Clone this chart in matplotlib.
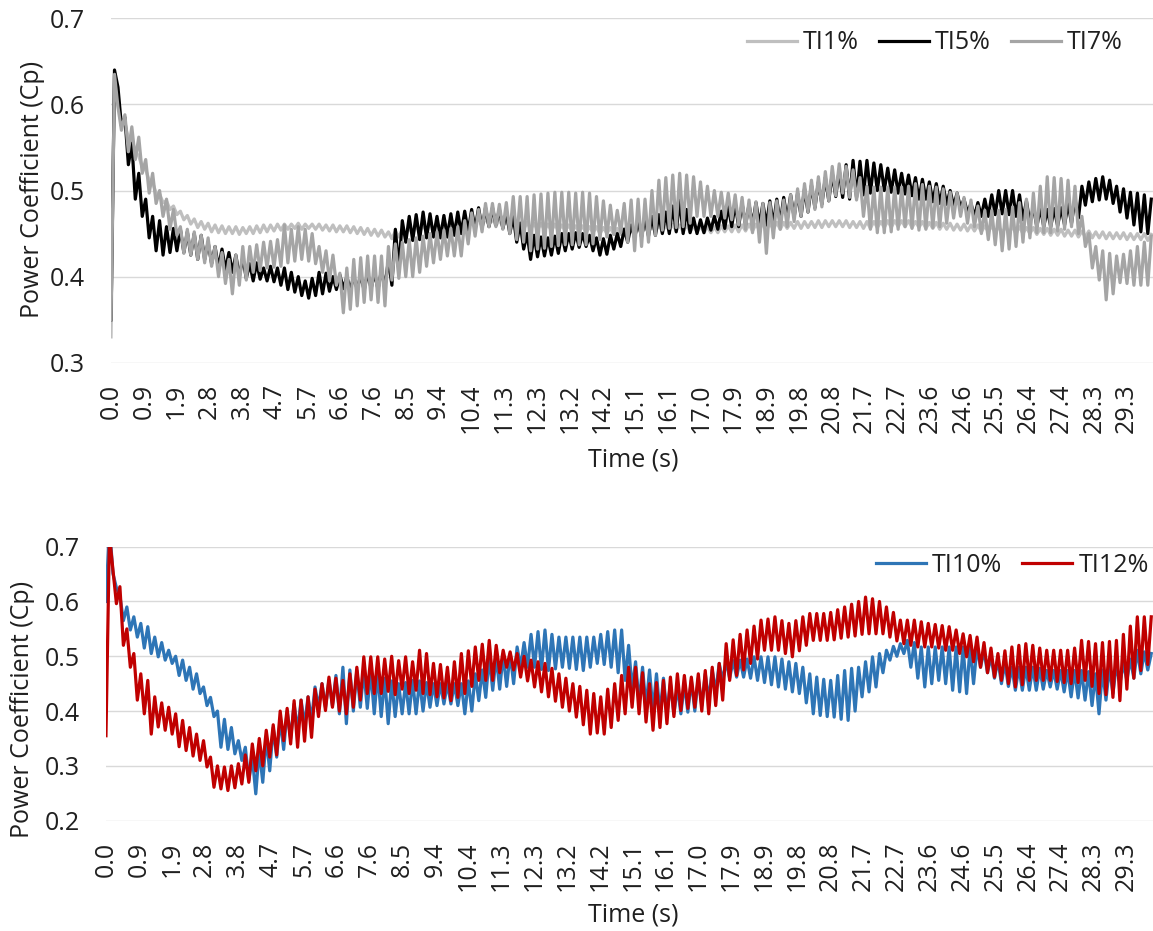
import numpy as np
import matplotlib
matplotlib.use("Agg")
import matplotlib.pyplot as plt

plt.rcParams['font.family'] = ['Open Sans', 'DejaVu Sans']

# Cp samples every 0.1 s, one row per second (t = k.0 ... k.9), last value at 30.0 s
dt = 0.1

ti1 = [
    [0.330, 0.635, 0.600, 0.582, 0.576, 0.562, 0.560, 0.545, 0.540, 0.527],
    [0.524, 0.512, 0.509, 0.497, 0.496, 0.486, 0.488, 0.478, 0.482, 0.472],
    [0.476, 0.466, 0.471, 0.461, 0.467, 0.457, 0.464, 0.455, 0.462, 0.452],
    [0.460, 0.451, 0.459, 0.450, 0.458, 0.450, 0.458, 0.449, 0.457, 0.450],
    [0.458, 0.450, 0.459, 0.451, 0.460, 0.452, 0.460, 0.453, 0.461, 0.454],
    [0.461, 0.455, 0.461, 0.456, 0.462, 0.455, 0.461, 0.456, 0.461, 0.455],
    [0.461, 0.454, 0.460, 0.453, 0.460, 0.452, 0.459, 0.452, 0.459, 0.451],
    [0.458, 0.450, 0.457, 0.449, 0.456, 0.448, 0.455, 0.447, 0.454, 0.446],
    [0.452, 0.444, 0.453, 0.446, 0.455, 0.448, 0.457, 0.450, 0.459, 0.452],
    [0.460, 0.453, 0.462, 0.455, 0.463, 0.456, 0.464, 0.457, 0.465, 0.458],
    [0.466, 0.459, 0.467, 0.460, 0.468, 0.460, 0.468, 0.461, 0.467, 0.460],
    [0.467, 0.459, 0.466, 0.458, 0.465, 0.457, 0.464, 0.456, 0.463, 0.455],
    [0.463, 0.455, 0.462, 0.454, 0.462, 0.454, 0.461, 0.453, 0.461, 0.453],
    [0.460, 0.453, 0.460, 0.452, 0.459, 0.452, 0.459, 0.451, 0.458, 0.451],
    [0.458, 0.450, 0.457, 0.450, 0.457, 0.449, 0.456, 0.449, 0.456, 0.449],
    [0.456, 0.449, 0.457, 0.450, 0.458, 0.451, 0.459, 0.452, 0.460, 0.452],
    [0.460, 0.453, 0.461, 0.453, 0.460, 0.452, 0.460, 0.452, 0.459, 0.452],
    [0.459, 0.451, 0.458, 0.451, 0.458, 0.451, 0.459, 0.452, 0.459, 0.452],
    [0.460, 0.452, 0.460, 0.453, 0.461, 0.453, 0.461, 0.454, 0.462, 0.454],
    [0.462, 0.455, 0.463, 0.455, 0.463, 0.456, 0.463, 0.456, 0.464, 0.456],
    [0.464, 0.457, 0.464, 0.457, 0.465, 0.457, 0.465, 0.458, 0.465, 0.458],
    [0.465, 0.458, 0.465, 0.457, 0.464, 0.457, 0.464, 0.456, 0.464, 0.456],
    [0.464, 0.457, 0.464, 0.457, 0.465, 0.457, 0.465, 0.458, 0.465, 0.458],
    [0.465, 0.457, 0.464, 0.457, 0.464, 0.456, 0.463, 0.456, 0.463, 0.455],
    [0.462, 0.455, 0.462, 0.454, 0.461, 0.454, 0.461, 0.453, 0.460, 0.453],
    [0.460, 0.452, 0.459, 0.452, 0.459, 0.451, 0.458, 0.451, 0.458, 0.451],
    [0.458, 0.450, 0.458, 0.450, 0.457, 0.450, 0.457, 0.449, 0.456, 0.449],
    [0.456, 0.448, 0.455, 0.448, 0.455, 0.447, 0.454, 0.447, 0.454, 0.446],
    [0.453, 0.446, 0.453, 0.445, 0.452, 0.445, 0.452, 0.444, 0.451, 0.444],
    [0.451, 0.444, 0.451, 0.443, 0.450, 0.443, 0.450, 0.443, 0.450, 0.442],
    [0.449],
]

ti5 = [
    [0.350, 0.640, 0.620, 0.575, 0.585, 0.530, 0.555, 0.490, 0.520, 0.470],
    [0.490, 0.445, 0.470, 0.430, 0.465, 0.425, 0.458, 0.428, 0.456, 0.430],
    [0.455, 0.428, 0.452, 0.425, 0.450, 0.420, 0.448, 0.420, 0.440, 0.415],
    [0.435, 0.410, 0.432, 0.408, 0.428, 0.405, 0.425, 0.400, 0.422, 0.398],
    [0.415, 0.395, 0.416, 0.397, 0.410, 0.395, 0.412, 0.394, 0.410, 0.390],
    [0.410, 0.385, 0.405, 0.382, 0.400, 0.378, 0.395, 0.375, 0.398, 0.378],
    [0.405, 0.380, 0.404, 0.383, 0.400, 0.385, 0.402, 0.386, 0.400, 0.385],
    [0.400, 0.385, 0.402, 0.384, 0.405, 0.386, 0.404, 0.385, 0.408, 0.388],
    [0.420, 0.390, 0.455, 0.410, 0.465, 0.440, 0.470, 0.442, 0.472, 0.443],
    [0.475, 0.445, 0.473, 0.446, 0.470, 0.445, 0.471, 0.446, 0.473, 0.448],
    [0.475, 0.450, 0.476, 0.452, 0.478, 0.455, 0.480, 0.456, 0.480, 0.458],
    [0.480, 0.460, 0.478, 0.456, 0.475, 0.450, 0.470, 0.440, 0.462, 0.432],
    [0.450, 0.420, 0.448, 0.423, 0.446, 0.424, 0.445, 0.425, 0.447, 0.427],
    [0.450, 0.430, 0.450, 0.432, 0.451, 0.434, 0.450, 0.435, 0.448, 0.430],
    [0.445, 0.425, 0.444, 0.426, 0.448, 0.432, 0.450, 0.435, 0.455, 0.440],
    [0.460, 0.445, 0.464, 0.446, 0.468, 0.447, 0.470, 0.448, 0.472, 0.450],
    [0.475, 0.450, 0.482, 0.452, 0.489, 0.450, 0.478, 0.451, 0.468, 0.450],
    [0.466, 0.451, 0.468, 0.454, 0.470, 0.455, 0.476, 0.456, 0.482, 0.458],
    [0.485, 0.458, 0.485, 0.460, 0.484, 0.460, 0.486, 0.460, 0.485, 0.460],
    [0.488, 0.460, 0.490, 0.462, 0.492, 0.466, 0.495, 0.469, 0.497, 0.470],
    [0.502, 0.475, 0.506, 0.480, 0.510, 0.484, 0.515, 0.488, 0.520, 0.493],
    [0.524, 0.492, 0.530, 0.490, 0.535, 0.492, 0.534, 0.495, 0.535, 0.497],
    [0.532, 0.500, 0.530, 0.500, 0.526, 0.498, 0.524, 0.497, 0.520, 0.496],
    [0.518, 0.494, 0.515, 0.490, 0.513, 0.490, 0.510, 0.487, 0.508, 0.485],
    [0.505, 0.484, 0.500, 0.482, 0.497, 0.480, 0.490, 0.474, 0.485, 0.470],
    [0.486, 0.470, 0.490, 0.470, 0.495, 0.472, 0.500, 0.473, 0.500, 0.472],
    [0.500, 0.470, 0.495, 0.466, 0.488, 0.462, 0.481, 0.458, 0.480, 0.458],
    [0.478, 0.458, 0.479, 0.459, 0.480, 0.460, 0.485, 0.462, 0.490, 0.468],
    [0.505, 0.483, 0.510, 0.487, 0.514, 0.489, 0.516, 0.490, 0.512, 0.485],
    [0.505, 0.475, 0.502, 0.468, 0.498, 0.460, 0.497, 0.452, 0.495, 0.450],
    [0.490],
]

ti7 = [
    [0.350, 0.635, 0.597, 0.570, 0.588, 0.545, 0.574, 0.536, 0.562, 0.520],
    [0.536, 0.497, 0.520, 0.485, 0.500, 0.470, 0.490, 0.455, 0.478, 0.448],
    [0.458, 0.427, 0.455, 0.425, 0.452, 0.420, 0.448, 0.416, 0.445, 0.412],
    [0.435, 0.400, 0.428, 0.392, 0.420, 0.380, 0.425, 0.390, 0.435, 0.396],
    [0.435, 0.405, 0.437, 0.407, 0.440, 0.410, 0.441, 0.411, 0.443, 0.412],
    [0.460, 0.416, 0.455, 0.418, 0.458, 0.420, 0.455, 0.418, 0.450, 0.415],
    [0.435, 0.405, 0.430, 0.395, 0.425, 0.390, 0.404, 0.358, 0.410, 0.362],
    [0.420, 0.366, 0.422, 0.370, 0.424, 0.373, 0.424, 0.370, 0.424, 0.366],
    [0.435, 0.396, 0.438, 0.398, 0.440, 0.400, 0.443, 0.400, 0.445, 0.405],
    [0.447, 0.412, 0.450, 0.416, 0.452, 0.420, 0.454, 0.424, 0.456, 0.424],
    [0.458, 0.424, 0.465, 0.438, 0.474, 0.447, 0.478, 0.452, 0.485, 0.458],
    [0.485, 0.458, 0.484, 0.455, 0.486, 0.450, 0.493, 0.443, 0.493, 0.440],
    [0.493, 0.430, 0.495, 0.432, 0.496, 0.433, 0.497, 0.435, 0.498, 0.436],
    [0.498, 0.437, 0.498, 0.437, 0.497, 0.437, 0.498, 0.437, 0.497, 0.438],
    [0.493, 0.443, 0.488, 0.446, 0.483, 0.449, 0.477, 0.451, 0.485, 0.440],
    [0.489, 0.430, 0.490, 0.435, 0.490, 0.440, 0.500, 0.448, 0.512, 0.454],
    [0.515, 0.456, 0.518, 0.457, 0.520, 0.458, 0.518, 0.462, 0.516, 0.470],
    [0.510, 0.470, 0.505, 0.470, 0.500, 0.470, 0.498, 0.468, 0.497, 0.466],
    [0.495, 0.460, 0.492, 0.455, 0.489, 0.451, 0.487, 0.440, 0.485, 0.427],
    [0.486, 0.445, 0.488, 0.455, 0.489, 0.458, 0.495, 0.464, 0.502, 0.470],
    [0.508, 0.475, 0.512, 0.478, 0.516, 0.481, 0.522, 0.488, 0.528, 0.494],
    [0.531, 0.497, 0.528, 0.492, 0.524, 0.489, 0.515, 0.470, 0.505, 0.455],
    [0.504, 0.451, 0.504, 0.451, 0.504, 0.452, 0.504, 0.455, 0.504, 0.458],
    [0.505, 0.456, 0.508, 0.454, 0.507, 0.455, 0.505, 0.457, 0.504, 0.458],
    [0.502, 0.462, 0.498, 0.468, 0.497, 0.470, 0.492, 0.462, 0.489, 0.458],
    [0.482, 0.450, 0.477, 0.443, 0.477, 0.437, 0.477, 0.430, 0.478, 0.432],
    [0.481, 0.435, 0.486, 0.440, 0.490, 0.445, 0.497, 0.451, 0.505, 0.451],
    [0.516, 0.451, 0.515, 0.453, 0.514, 0.455, 0.512, 0.458, 0.505, 0.450],
    [0.470, 0.435, 0.450, 0.410, 0.435, 0.396, 0.430, 0.373, 0.427, 0.380],
    [0.424, 0.393, 0.426, 0.392, 0.430, 0.390, 0.435, 0.390, 0.440, 0.390],
    [0.447],
]

ti10 = [
    [0.600, 0.740, 0.651, 0.625, 0.610, 0.565, 0.590, 0.548, 0.572, 0.535],
    [0.560, 0.515, 0.554, 0.505, 0.535, 0.499, 0.525, 0.493, 0.511, 0.487],
    [0.500, 0.465, 0.493, 0.456, 0.480, 0.440, 0.468, 0.432, 0.444, 0.410],
    [0.425, 0.390, 0.400, 0.334, 0.385, 0.330, 0.370, 0.322, 0.346, 0.310],
    [0.334, 0.273, 0.316, 0.249, 0.330, 0.270, 0.352, 0.291, 0.370, 0.316],
    [0.385, 0.330, 0.400, 0.350, 0.413, 0.365, 0.420, 0.375, 0.426, 0.383],
    [0.444, 0.407, 0.450, 0.407, 0.456, 0.410, 0.465, 0.395, 0.480, 0.377],
    [0.475, 0.400, 0.474, 0.407, 0.474, 0.405, 0.474, 0.395, 0.470, 0.390],
    [0.460, 0.377, 0.455, 0.390, 0.450, 0.395, 0.452, 0.395, 0.456, 0.395],
    [0.455, 0.400, 0.452, 0.407, 0.450, 0.410, 0.450, 0.413, 0.450, 0.413],
    [0.450, 0.410, 0.450, 0.395, 0.455, 0.400, 0.468, 0.419, 0.475, 0.425],
    [0.499, 0.438, 0.500, 0.440, 0.503, 0.445, 0.505, 0.450, 0.517, 0.480],
    [0.525, 0.480, 0.540, 0.480, 0.545, 0.476, 0.548, 0.474, 0.540, 0.477],
    [0.535, 0.480, 0.535, 0.478, 0.535, 0.476, 0.535, 0.474, 0.535, 0.480],
    [0.535, 0.487, 0.540, 0.485, 0.545, 0.480, 0.548, 0.470, 0.548, 0.456],
    [0.520, 0.440, 0.490, 0.415, 0.480, 0.407, 0.475, 0.400, 0.468, 0.395],
    [0.460, 0.395, 0.450, 0.395, 0.444, 0.395, 0.450, 0.398, 0.456, 0.400],
    [0.460, 0.410, 0.468, 0.420, 0.475, 0.435, 0.487, 0.456, 0.490, 0.460],
    [0.492, 0.462, 0.493, 0.462, 0.495, 0.460, 0.499, 0.456, 0.499, 0.452],
    [0.499, 0.448, 0.499, 0.444, 0.495, 0.440, 0.490, 0.435, 0.487, 0.432],
    [0.480, 0.415, 0.468, 0.395, 0.462, 0.392, 0.458, 0.390, 0.456, 0.389],
    [0.465, 0.385, 0.474, 0.383, 0.478, 0.400, 0.480, 0.426, 0.490, 0.435],
    [0.499, 0.444, 0.505, 0.470, 0.511, 0.493, 0.518, 0.500, 0.523, 0.505],
    [0.529, 0.480, 0.525, 0.460, 0.517, 0.444, 0.517, 0.450, 0.517, 0.456],
    [0.517, 0.450, 0.517, 0.438, 0.517, 0.435, 0.517, 0.432, 0.517, 0.450],
    [0.517, 0.480, 0.510, 0.470, 0.500, 0.460, 0.493, 0.450, 0.488, 0.445],
    [0.480, 0.438, 0.480, 0.438, 0.480, 0.438, 0.480, 0.438, 0.478, 0.440],
    [0.474, 0.444, 0.474, 0.440, 0.474, 0.435, 0.474, 0.426, 0.474, 0.424],
    [0.474, 0.420, 0.472, 0.410, 0.468, 0.395, 0.475, 0.420, 0.480, 0.432],
    [0.484, 0.450, 0.487, 0.456, 0.495, 0.460, 0.511, 0.468, 0.508, 0.475],
    [0.505],
]

ti12 = [
    [0.355, 0.720, 0.657, 0.596, 0.627, 0.520, 0.550, 0.480, 0.505, 0.420],
    [0.468, 0.395, 0.456, 0.358, 0.426, 0.371, 0.415, 0.365, 0.407, 0.358],
    [0.395, 0.335, 0.383, 0.328, 0.370, 0.318, 0.358, 0.310, 0.346, 0.298],
    [0.316, 0.261, 0.300, 0.258, 0.298, 0.255, 0.300, 0.260, 0.304, 0.267],
    [0.320, 0.270, 0.340, 0.291, 0.350, 0.300, 0.365, 0.316, 0.375, 0.320],
    [0.400, 0.346, 0.405, 0.340, 0.419, 0.334, 0.420, 0.345, 0.426, 0.352],
    [0.440, 0.390, 0.450, 0.401, 0.462, 0.407, 0.460, 0.400, 0.456, 0.395],
    [0.468, 0.407, 0.480, 0.420, 0.499, 0.432, 0.499, 0.432, 0.499, 0.432],
    [0.495, 0.436, 0.500, 0.430, 0.492, 0.440, 0.499, 0.432, 0.490, 0.438],
    [0.511, 0.432, 0.505, 0.430, 0.487, 0.426, 0.485, 0.424, 0.480, 0.419],
    [0.490, 0.425, 0.505, 0.432, 0.510, 0.445, 0.517, 0.456, 0.522, 0.456],
    [0.529, 0.456, 0.520, 0.470, 0.511, 0.480, 0.508, 0.475, 0.505, 0.462],
    [0.500, 0.455, 0.493, 0.444, 0.490, 0.435, 0.487, 0.426, 0.478, 0.418],
    [0.468, 0.407, 0.460, 0.400, 0.450, 0.389, 0.445, 0.375, 0.438, 0.358],
    [0.432, 0.360, 0.426, 0.358, 0.440, 0.370, 0.450, 0.383, 0.465, 0.395],
    [0.480, 0.407, 0.480, 0.395, 0.470, 0.380, 0.450, 0.365, 0.452, 0.370],
    [0.456, 0.377, 0.462, 0.390, 0.468, 0.401, 0.465, 0.405, 0.462, 0.407],
    [0.468, 0.400, 0.474, 0.395, 0.480, 0.410, 0.487, 0.420, 0.523, 0.456],
    [0.530, 0.465, 0.540, 0.475, 0.548, 0.487, 0.555, 0.495, 0.566, 0.511],
    [0.568, 0.511, 0.572, 0.511, 0.565, 0.505, 0.560, 0.499, 0.565, 0.510],
    [0.572, 0.520, 0.578, 0.529, 0.578, 0.529, 0.578, 0.529, 0.580, 0.530],
    [0.585, 0.533, 0.590, 0.535, 0.595, 0.537, 0.600, 0.540, 0.608, 0.541],
    [0.605, 0.541, 0.600, 0.541, 0.590, 0.535, 0.580, 0.528, 0.566, 0.523],
    [0.566, 0.520, 0.566, 0.517, 0.563, 0.517, 0.560, 0.517, 0.558, 0.515],
    [0.556, 0.511, 0.554, 0.511, 0.548, 0.505, 0.541, 0.499, 0.538, 0.490],
    [0.535, 0.480, 0.525, 0.470, 0.515, 0.462, 0.505, 0.456, 0.510, 0.450],
    [0.517, 0.444, 0.520, 0.448, 0.523, 0.456, 0.520, 0.456, 0.515, 0.456],
    [0.511, 0.456, 0.511, 0.454, 0.511, 0.452, 0.511, 0.450, 0.515, 0.452],
    [0.529, 0.456, 0.527, 0.445, 0.523, 0.432, 0.525, 0.430, 0.527, 0.425],
    [0.529, 0.419, 0.540, 0.440, 0.555, 0.460, 0.572, 0.474, 0.572, 0.485],
    [0.572],
]

tick_labels = ["0.0", "0.9", "1.9", "2.8", "3.8", "4.7", "5.7", "6.6", "7.6", "8.5",
               "9.4", "10.4", "11.3", "12.3", "13.2", "14.2", "15.1", "16.1", "17.0",
               "17.9", "18.9", "19.8", "20.8", "21.7", "22.7", "23.6", "24.6", "25.5",
               "26.4", "27.4", "28.3", "29.3"]

top_series = [("TI1%", ti1, "#BFBFBF"), ("TI5%", ti5, "#000000"), ("TI7%", ti7, "#A5A5A5")]
bottom_series = [("TI10%", ti10, "#2E75B6"), ("TI12%", ti12, "#C00000")]

text_color = "#1f1f1f"
grid_color = "#D9D9D9"
fs = 18

fig = plt.figure(figsize=(11.53, 9.31), dpi=100)
ax_top = fig.add_axes([0.0963, 0.6104, 0.9037, 0.3699])
ax_bot = fig.add_axes([0.0919, 0.1185, 0.9081, 0.2943])

tick_step = 29.29 / 31
tick_pos = np.arange(len(tick_labels)) * tick_step


def style_axis(ax, ylim, yticks):
    ax.set_xlim(0, 30.05)
    ax.set_ylim(*ylim)
    ax.set_yticks(yticks)
    ax.set_yticklabels([f"{v:.1f}" for v in yticks])
    ax.set_xticks(tick_pos)
    ax.set_xticklabels(tick_labels, rotation=90)
    ax.tick_params(axis="x", length=0, pad=15, labelsize=fs, colors=text_color)
    ax.tick_params(axis="y", length=0, pad=19, labelsize=fs, colors=text_color)
    for s in ax.spines.values():
        s.set_visible(False)
    ax.grid(axis="y", color=grid_color, linewidth=1.0)
    ax.set_axisbelow(True)


for ax, series in ((ax_top, top_series), (ax_bot, bottom_series)):
    for name, rows, color in series:
        y = np.concatenate([np.asarray(r, dtype=float) for r in rows])
        t = np.arange(len(y)) * dt
        ax.plot(t, y, color=color, linewidth=2.3, label=name, solid_joinstyle="round")

style_axis(ax_top, (0.3, 0.7), [0.3, 0.4, 0.5, 0.6, 0.7])
style_axis(ax_bot, (0.2, 0.7), [0.2, 0.3, 0.4, 0.5, 0.6, 0.7])

leg_kw = dict(frameon=False, fontsize=fs, handlelength=2.0, handletextpad=0.25,
              columnspacing=0.8, borderpad=0, borderaxespad=0, labelcolor=text_color)
ax_top.legend(loc="center right", ncol=3, bbox_to_anchor=(0.974, 0.954),
              bbox_transform=fig.transFigure, **leg_kw)
ax_bot.legend(loc="center right", ncol=2, bbox_to_anchor=(0.9965, 0.393),
              bbox_transform=fig.transFigure, **leg_kw)

fig.text(0.0286, 0.796, "Power Coefficient (Cp)", rotation=90, ha="center", va="center",
         fontsize=fs, color=text_color)
fig.text(0.0191, 0.238, "Power Coefficient (Cp)", rotation=90, ha="center", va="center",
         fontsize=fs, color=text_color)
fig.text(0.5495, 0.506, "Time (s)", ha="center", va="center", fontsize=fs, color=text_color)
fig.text(0.5495, 0.017, "Time (s)", ha="center", va="center", fontsize=fs, color=text_color)

fig.savefig("out.png", dpi=100)
